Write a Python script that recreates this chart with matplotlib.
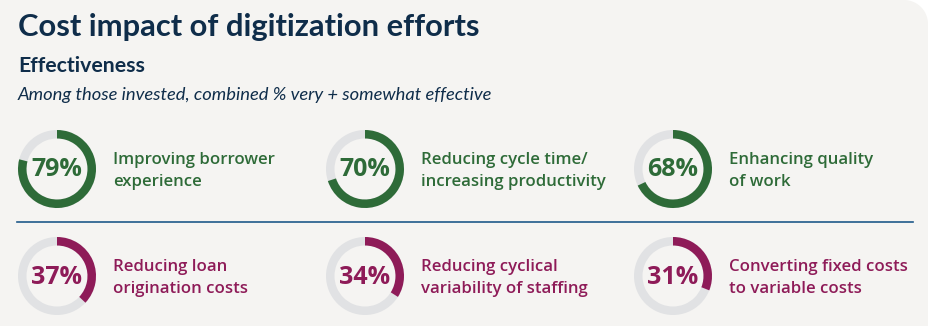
import numpy as np
import matplotlib
matplotlib.use('Agg')
import matplotlib.pyplot as plt
from matplotlib.patches import Wedge, Polygon

plt.rcParams['font.family'] = ['Lato', 'DejaVu Sans']

# values
labels_top = ['Improving borrower\nexperience',
              'Reducing cycle time/\nincreasing productivity',
              'Enhancing quality\nof work']
values_top = [79, 70, 68]
labels_bottom = ['Reducing loan\norigination costs',
                 'Reducing cyclical\nvariability of staffing',
                 'Converting fixed costs\nto variable costs']
values_bottom = [37, 34, 31]

green = '#2e6b38'
maroon = '#8e1b58'
track = '#e1e2e4'
navy = '#0f2d4a'
panel = '#f5f4f2'
label_font = ['Open Sans', 'DejaVu Sans']

W, H = 929, 326
fig = plt.figure(figsize=(W / 100, H / 100), dpi=100)
fig.patch.set_facecolor('white')
ax = fig.add_axes([0, 0, 1, 1])
ax.set_xlim(0, W)
ax.set_ylim(H, 0)
ax.set_aspect('equal')
ax.axis('off')

# panel background, rounded only at the top right
r = 24
right = 928
t = np.linspace(-np.pi / 2, 0, 30)
arc = np.column_stack([right - r + r * np.cos(t), r + r * np.sin(t)])
verts = np.vstack([[[0, 0]], arc, [[right, H], [0, H]]])
ax.add_patch(Polygon(verts, closed=True, facecolor=panel, edgecolor='none'))

ax.text(18, 27, 'Cost impact of digitization efforts', fontsize=22.2,
        fontweight='bold', color=navy, va='center', ha='left')
ax.text(18, 66, 'Effectiveness', fontsize=15.3, fontweight='bold',
        color=navy, va='center', ha='left')
ax.text(18, 95, 'Among those invested, combined % very + somewhat effective',
        fontsize=13.2, style='italic', color=navy, va='center', ha='left')

# divider between the two rows
ax.plot([17, 913], [222, 222], color='#1f5a8a', lw=1.2)

col_x = [57, 365, 673]
row_y = [169, 276]
R_out, ring = 39, 8.5


def donut(cx, cy, val, color, label):
    # y axis is inverted, so angles run clockwise on screen
    ax.add_patch(Wedge((cx, cy), R_out, 0, 360, width=ring,
                       facecolor=track, edgecolor='none'))
    ax.add_patch(Wedge((cx, cy), R_out, -90, -90 + 360 * val / 100,
                       width=ring, facecolor=color, edgecolor='none'))
    ax.text(cx, cy + 1, f'{val}%', fontsize=18, fontweight='bold',
            color=color, ha='center', va='center', family=label_font)
    ax.text(cx + 56, cy + 2, label, fontsize=12.1, color=color, ha='left',
            va='center', linespacing=1.45, fontweight='semibold',
            family=label_font)


for cx, v, lab in zip(col_x, values_top, labels_top):
    donut(cx, row_y[0], v, green, lab)
for cx, v, lab in zip(col_x, values_bottom, labels_bottom):
    donut(cx, row_y[1], v, maroon, lab)

fig.savefig('out.png', dpi=100, facecolor=fig.get_facecolor())
